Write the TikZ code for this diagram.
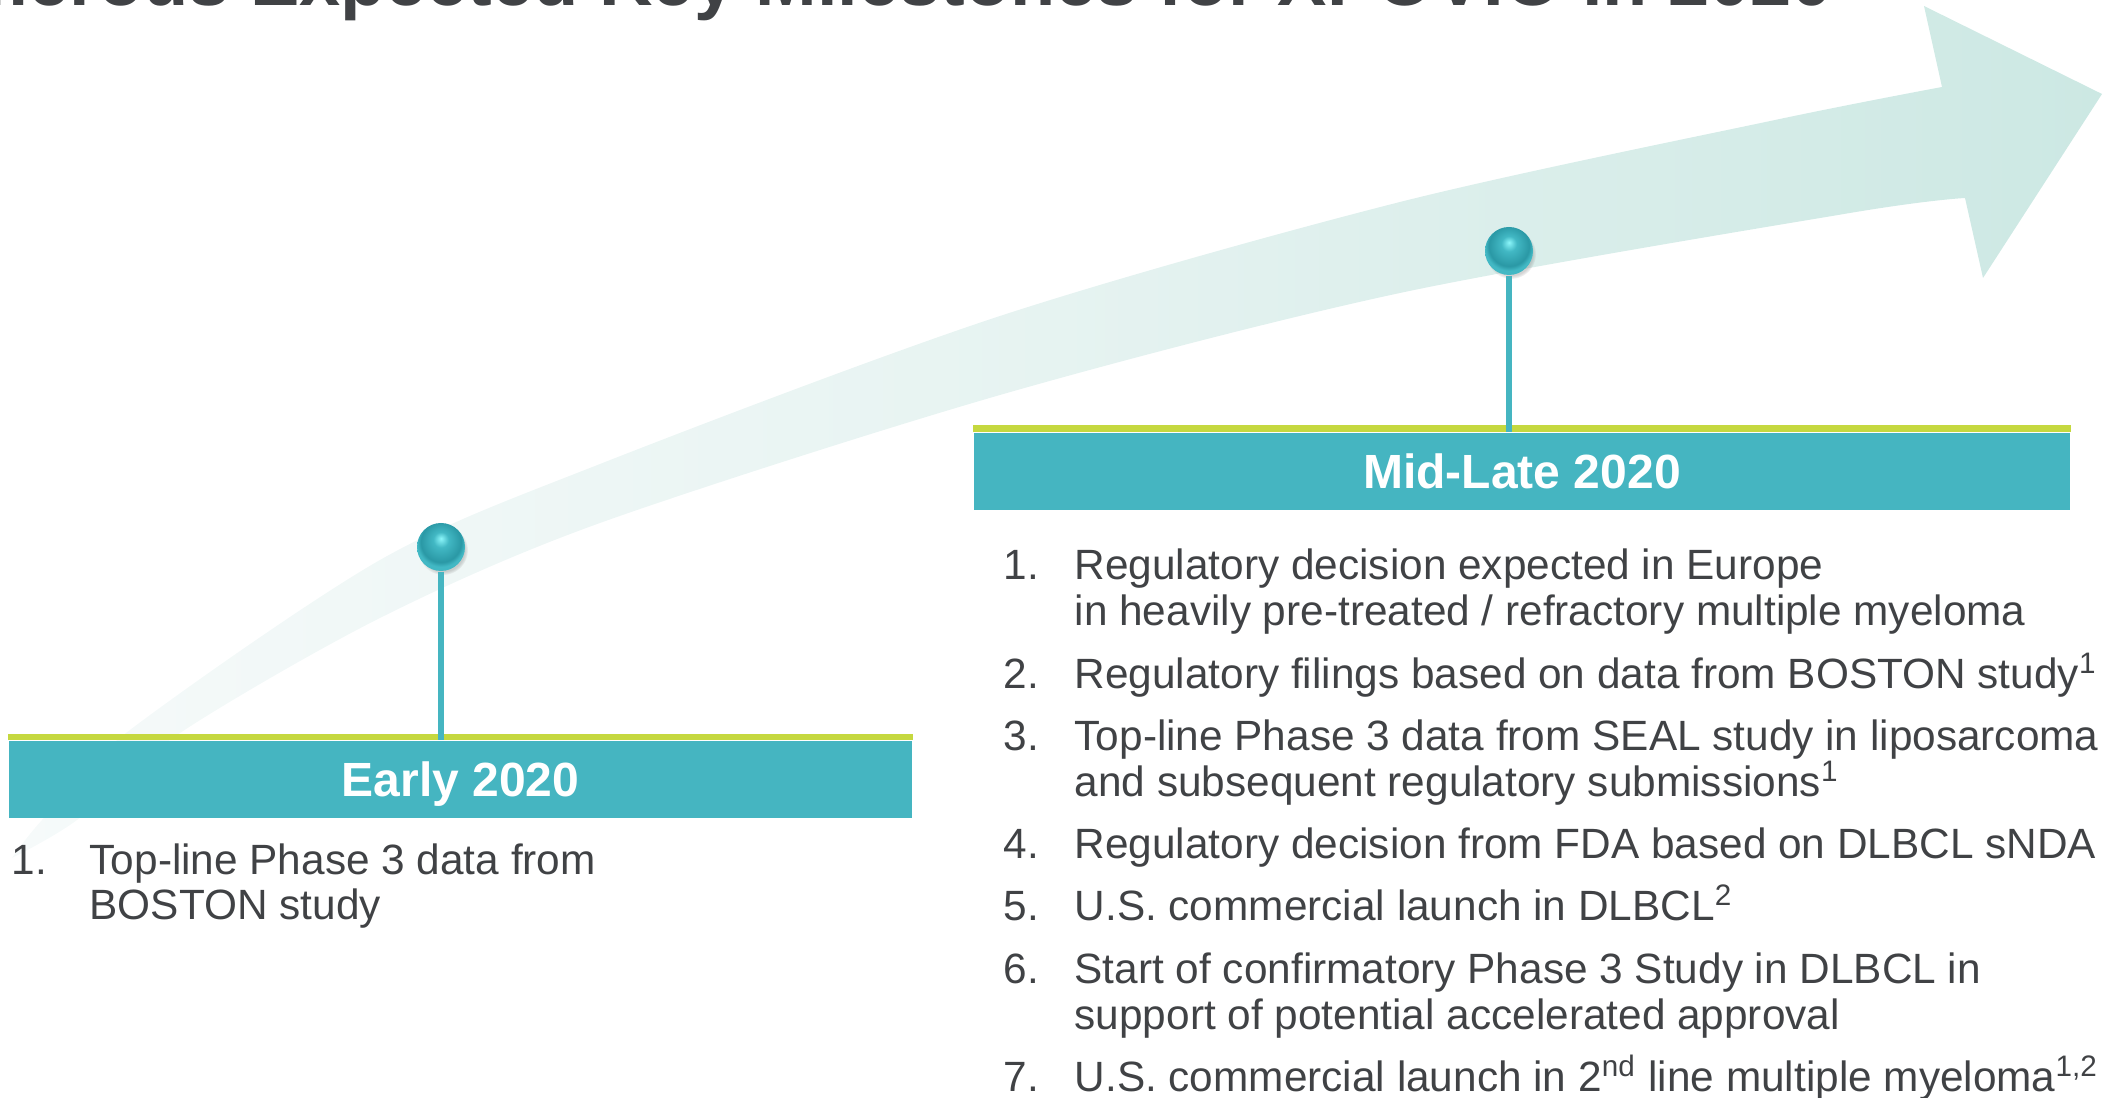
\documentclass[tikz,border=0pt]{standalone}
\usepackage{fontspec}
\setmainfont{Liberation Sans}
\usetikzlibrary{shadows}

\definecolor{barteal}{RGB}{69,181,193}
\definecolor{barlime}{RGB}{197,216,63}
\definecolor{inkgray}{RGB}{64,66,69}
\definecolor{bandpale}{RGB}{246,250,250}
\definecolor{bandmid}{RGB}{230,243,241}
\definecolor{bandtint}{RGB}{204,232,227}
\definecolor{pinlight}{RGB}{140,246,250}
\definecolor{pinteal}{RGB}{66,184,196}
\definecolor{pindark}{RGB}{42,152,165}

% glossy marker ball, light spot near the top
\pgfdeclareradialshading{pinball}{\pgfpoint{0bp}{9bp}}{color(0bp)=(pinlight); color(8bp)=(pinteal); color(21bp)=(pindark); color(25bp)=(pinteal); color(50bp)=(pinteal)}

\begin{document}
\begin{tikzpicture}[
  headbar/.style={fill=barteal,text=white,font=\fontsize{13.66}{16}\selectfont\bfseries,
    minimum height=0.77cm,inner sep=0,text height=0.344cm,text depth=0cm},
  pin/.style={circle,minimum size=0.48cm,inner sep=0,shading=pinball,
    circular drop shadow={shadow xshift=0.02cm,shadow yshift=-0.03cm,shadow scale=1.04,opacity=0.35}},
  stem/.style={barteal,line width=0.06cm},
  entry/.style={anchor=base west,inner sep=0,text=inkgray,font=\fontsize{12.05}{13}\selectfont}
]
\useasboundingbox (0,0) rectangle (21.21,-10.98);
\clip (0,0) rectangle (21.21,-10.98);

% sweeping arrow in the back
\shade[left color=bandpale,right color=bandtint,middle color=bandmid]
  plot[smooth] coordinates {(0.12,-8.58) (0.42,-8.20) (1.26,-7.33) (3.80,-5.60) (6.00,-4.64)
    (10.00,-3.16) (14.00,-2.02) (17.75,-1.20) (19.42,-0.87)}
  -- (19.24,-0.06) -- (21.02,-0.94) -- (19.83,-2.78) -- (19.65,-1.98)
  -- plot[smooth] coordinates {(19.65,-1.98) (18.50,-2.13) (14.00,-2.93) (10.00,-3.95)
    (6.00,-5.23) (3.80,-6.18) (1.80,-7.33) (0.77,-8.20) (0.12,-8.58)}
  -- cycle;

% heading (runs off the top)
\node[anchor=base west,inner sep=0,text=inkgray,font=\fontsize{21.05}{24}\selectfont\bfseries]
  (title) at (-1.37,-0.06) {Numerous Expected Key Milestones for XPOVIO in 2020};

% period bars
\node[headbar,minimum width=9.03cm] (early) at (4.605,-7.795) {Early 2020};
\fill[barlime] (early.north west) rectangle ([yshift=0.065cm]early.north east);
\node[headbar,minimum width=10.96cm] (midlate) at (15.22,-4.715) {Mid-Late 2020};
\fill[barlime] (midlate.north west) rectangle ([yshift=0.07cm]midlate.north east);

% marker pins on the arrow
\node[pin] (pinA) at (4.41,-5.47) {};
\node[pin] (pinB) at (15.09,-2.51) {};
\draw[stem] (pinA.south) -- (pinA.south |- early.north);
\draw[stem] (pinB.south) -- (pinB.south |- midlate.north);

% early list
\node[entry] (num0) at (0.11,-8.75) {1.};
\node[entry] (early1) at (0.89,-8.75) {Top-line Phase 3 data from};
\node[entry] (early1b) at (0.89,-9.20) {BOSTON study};

% mid-late list
\foreach \k/\y in {1/5.80,2/6.89,3/7.51,4/8.59,5/9.21,6/9.84,7/10.92}
  \node[entry] (num\k) at (10.03,-\y) {\k.};
\node[entry] (item1) at (10.74,-5.80) {Regulatory decision expected in Europe};
\node[entry] (item1b) at (10.74,-6.26) {in heavily pre-treated / refractory multiple myeloma};
\node[entry] (item2) at (10.74,-6.89) {Regulatory filings based on data from BOSTON study\textsuperscript{1}};
\node[entry] (item3) at (10.74,-7.51) {Top-line Phase 3 data from SEAL study in liposarcoma};
\node[entry] (item3b) at (10.74,-7.97) {and subsequent regulatory submissions\textsuperscript{1}};
\node[entry] (item4) at (10.74,-8.59) {Regulatory decision from FDA based on DLBCL sNDA};
\node[entry] (item5) at (10.74,-9.21) {U.S. commercial launch in DLBCL\textsuperscript{2}};
\node[entry] (item6) at (10.74,-9.84) {Start of confirmatory Phase 3 Study in DLBCL in};
\node[entry] (item6b) at (10.74,-10.30) {support of potential accelerated approval};
\node[entry] (item7) at (10.74,-10.92) {U.S. commercial launch in 2\textsuperscript{nd} line multiple myeloma\textsuperscript{1,2}};
\end{tikzpicture}
\end{document}
